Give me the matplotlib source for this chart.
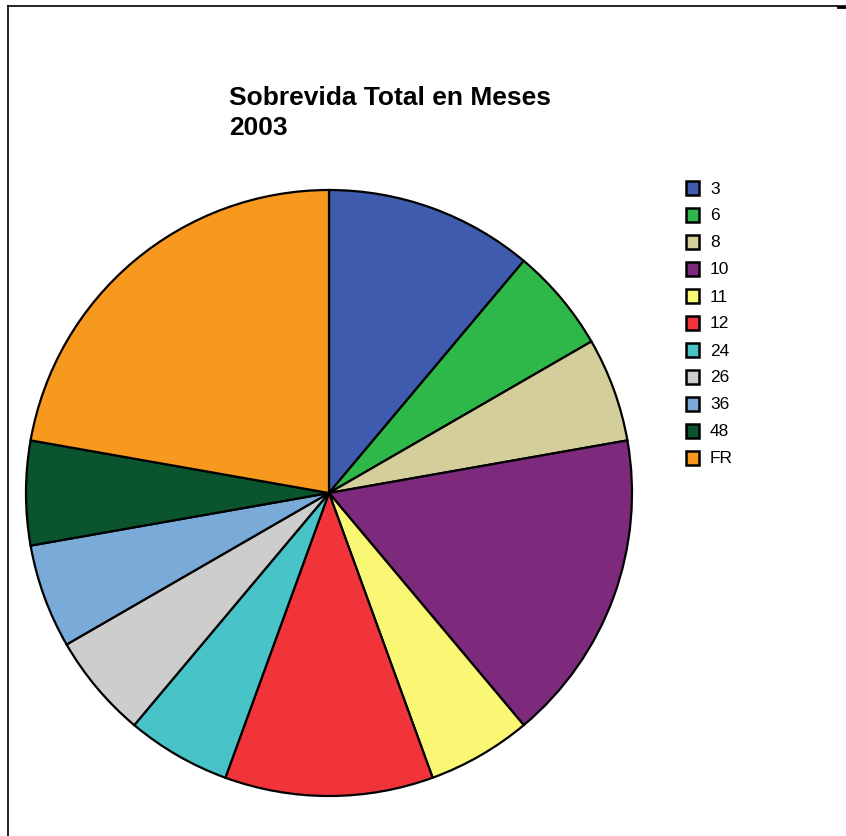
import matplotlib

matplotlib.use("Agg")
import matplotlib.pyplot as plt
from matplotlib.lines import Line2D
from matplotlib.patches import Rectangle

plt.rcParams["font.family"] = ["Liberation Sans", "DejaVu Sans"]

# Survival in months, 2003 (patient counts per category)
labels = ["3", "6", "8", "10", "11", "12", "24", "26", "36", "48", "FR"]
counts = [2, 1, 1, 3, 1, 2, 1, 1, 1, 1, 4]
colors = ["#3F5BAD", "#2FB84A", "#D4CF9A", "#7D2A7C", "#FAF774", "#F0343A",
          "#48C4C8", "#CDCDCD", "#7AAAD8", "#0B552E", "#F7991E"]

W, H = 846, 837
fig = plt.figure(figsize=(W / 100, H / 100), dpi=100)
fig.patch.set_facecolor("white")

# pie placed in pixel terms: centre (329, 494), radius 303
cx, cy, r = 329, 494, 303
ax = fig.add_axes([(cx - r) / W, (H - cy - r) / H, 2 * r / W, 2 * r / H])
ax.pie(counts, colors=colors, startangle=90, counterclock=False,
       wedgeprops=dict(edgecolor="black", linewidth=1.6, clip_on=False))
ax.set_xlim(-1, 1)
ax.set_ylim(-1, 1)
ax.set_aspect("equal")
ax.axis("off")

fig.text(229 / W, 1 - 86 / H, "Sobrevida Total en Meses\n2003",
         fontsize=19, fontweight="bold", ha="left", va="top", linespacing=1.3)

# legend swatches drawn in figure pixels
for i, (lab, col) in enumerate(zip(labels, colors)):
    yc = 189 + i * 27
    fig.add_artist(Rectangle((686 / W, 1 - (yc + 7) / H), 13 / W, 14 / H,
                             facecolor=col, edgecolor="black", linewidth=1.8,
                             transform=fig.transFigure))
    fig.text(710 / W, 1 - yc / H, lab, fontsize=12.5, ha="left", va="center")

# page frame (top and left edges only)
fig.add_artist(Line2D([8 / W, 1], [1 - 7 / H, 1 - 7 / H], color="black",
                      linewidth=1.2, transform=fig.transFigure))
fig.add_artist(Line2D([8 / W, 8 / W], [1 - 7 / H, 0], color="black",
                      linewidth=1.2, transform=fig.transFigure))
fig.add_artist(Line2D([838 / W, 1], [1 - 8 / H, 1 - 8 / H], color="black",
                      linewidth=2, transform=fig.transFigure))

fig.savefig("out.png", dpi=100)
